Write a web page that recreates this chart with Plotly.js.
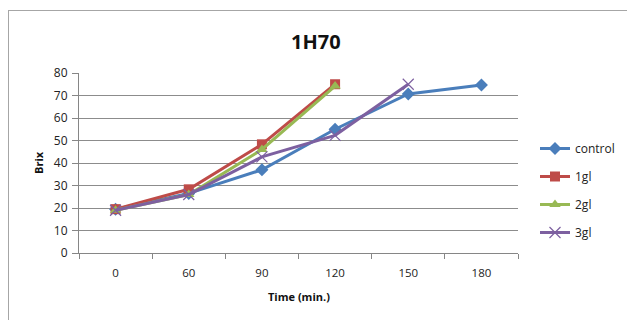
<!DOCTYPE html>
<html><head><meta charset="utf-8">
<script src="https://cdn.plot.ly/plotly-3.0.1.min.js"></script>
<style>
body{margin:0;padding:0;background:#fff;}
#frame{position:absolute;left:8px;top:10px;width:700px;height:400px;border:1.5px solid #a6a6a6;pointer-events:none;z-index:5;}
#chart{position:absolute;left:0;top:0;width:627px;height:320px;}
</style></head>
<body>
<div id="chart"></div>
<div id="frame"></div>
<script>
const categories = ["0","60","90","120","150","180"];
const control = [19.5, 26.5, 37, 55, 70.7, 74.7];
const gl1 = [19.5, 28.3, 48.3, 75];
const gl2 = [19, 26, 46, 74.2];
const gl3 = [19, 26, 42.7, 52.3, 75];
const seriesNames = ["control","1gl","2gl","3gl"];

const colors = ["#4A7EBB","#BE4B48","#98B954","#7D60A0"];
const symbols = ["diamond","square","triangle-up","x-thin-open"];
const sizes = [10, 10, 10, 11];
const all = [control, gl1, gl2, gl3];

const traces = all.map((vals, i) => ({
  x: categories.slice(0, vals.length),
  y: vals,
  type: "scatter",
  mode: "lines+markers",
  name: seriesNames[i],
  legendgroup: "g" + i,
  line: {color: colors[i], width: 3},
  marker: i === 3
    ? {symbol: symbols[i], size: sizes[i], color: colors[i], line: {color: colors[i], width: 1.2}}
    : {symbol: symbols[i], size: sizes[i], color: colors[i]}
}));

const layout = {
  width: 627, height: 320,
  margin: {l: 79, r: 109, t: 73, b: 67},
  paper_bgcolor: "#fff", plot_bgcolor: "#fff",
  font: {family: "Open Sans, Liberation Sans, sans-serif", size: 12, color: "#222"},
  showlegend: true,
  legend: {xref: "container", yref: "container", x: 535/627, xanchor: "left", y: 1 - 134/320, yanchor: "top",
           tracegroupgap: 9, itemwidth: 30, font: {size: 12, color: "#222"}, bgcolor: "rgba(0,0,0,0)"},
  xaxis: {
    type: "category", categoryorder: "array", categoryarray: categories,
    range: [-0.5, 5.5], tickson: "boundaries", ticks: "outside", ticklen: 5,
    tickcolor: "#868686", showline: true, linecolor: "#868686", linewidth: 1,
    showgrid: false, tickfont: {size: 11.5, color: "#222"}, ticklabelstandoff: 9,
    fixedrange: true, automargin: false
  },
  yaxis: {
    range: [0, 80], dtick: 10, ticks: "outside", ticklen: 6, tickcolor: "#868686",
    showline: true, linecolor: "#868686", linewidth: 1,
    showgrid: true, gridcolor: "#8c8c8c", gridwidth: 1, zeroline: false,
    tickfont: {size: 12, color: "#222"}, ticklabelstandoff: 2, fixedrange: true, automargin: false
  },
  annotations: [
    {text: "<b>1H70</b>", xref: "paper", yref: "paper", x: 0.54, y: 1 + (73-42)/180,
     xanchor: "center", yanchor: "middle", showarrow: false, font: {size: 20, color: "#111"}},
    {text: "<b>Time (min.)</b>", xref: "paper", yref: "paper", x: 0.5, y: -(296-253)/180,
     xanchor: "center", yanchor: "middle", showarrow: false, font: {size: 11, color: "#111"}},
    {text: "<b>Brix</b>", xref: "paper", yref: "paper", x: -(79-38)/439, y: 0.5,
     xanchor: "center", yanchor: "middle", textangle: -90, showarrow: false, font: {size: 11, color: "#111"}}
  ]
};

Plotly.newPlot("chart", traces, layout, {displayModeBar: false, staticPlot: true});
</script>
</body></html>
